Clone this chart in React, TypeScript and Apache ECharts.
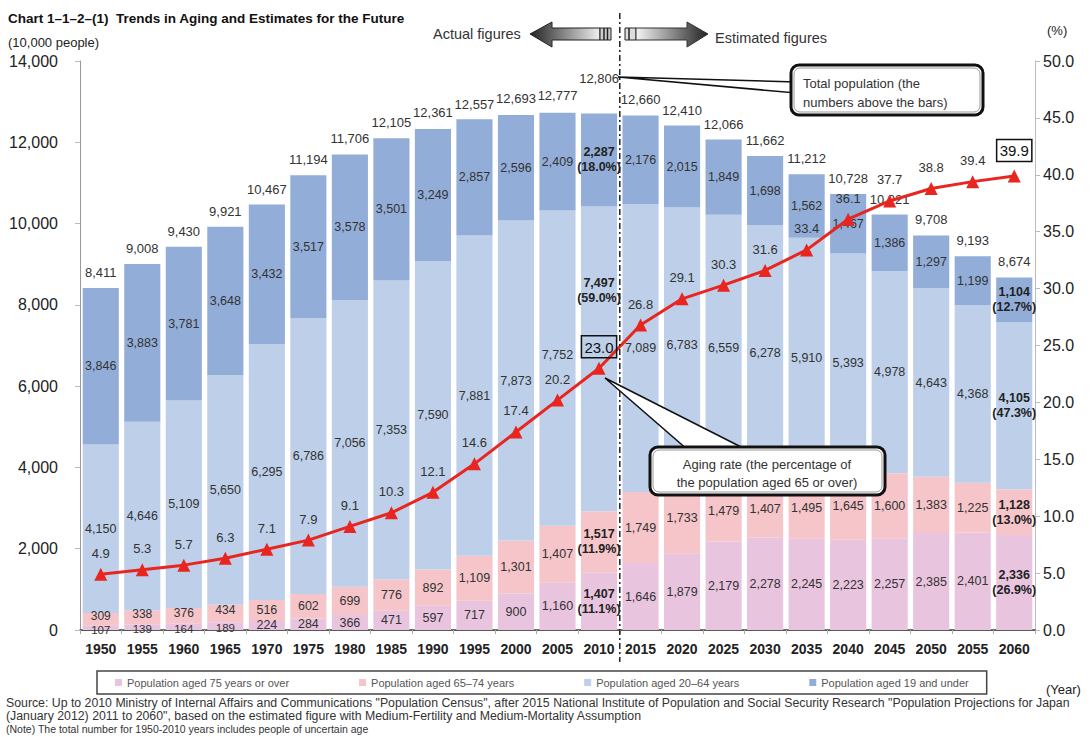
import React, { useEffect, useRef } from "react";
import * as echarts from "echarts";

const years = ["1950","1955","1960","1965","1970","1975","1980","1985","1990","1995","2000","2005","2010","2015","2020","2025","2030","2035","2040","2045","2050","2055","2060"];
const aged19Under = [3846,3883,3781,3648,3432,3517,3578,3501,3249,2857,2596,2409,2287,2176,2015,1849,1698,1562,1467,1386,1297,1199,1104];
const aged20to64 = [4150,4646,5109,5650,6295,6786,7056,7353,7590,7881,7873,7752,7497,7089,6783,6559,6278,5910,5393,4978,4643,4368,4105];
const aged65to74 = [309,338,376,434,516,602,699,776,892,1109,1301,1407,1517,1749,1733,1479,1407,1495,1645,1600,1383,1225,1128];
const aged75Over = [107,139,164,189,224,284,366,471,597,717,900,1160,1407,1646,1879,2179,2278,2245,2223,2257,2385,2401,2336];
const totals = [8411,9008,9430,9921,10467,11194,11706,12105,12361,12557,12693,12777,12806,12660,12410,12066,11662,11212,10728,10221,9708,9193,8674];
const agingRate = [4.9,5.3,5.7,6.3,7.1,7.9,9.1,10.3,12.1,14.6,17.4,20.2,23.0,26.8,29.1,30.3,31.6,33.4,36.1,37.7,38.8,39.4,39.9];
// shares for highlighted years: [75+, 65-74, 20-64, 19-]
const share2010 = [11.1, 11.9, 59.0, 18.0];
const share2060 = [26.9, 13.0, 47.3, 12.7];
const leftTicks = { min: 0, max: 14000, interval: 2000 };
const rightTicks = { min: 0, max: 50, interval: 5 };

const seriesNames = [
  "Population aged 75 years or over",
  "Population aged 65\u201374 years",
  "Population aged 20\u201364 years",
  "Population aged 19 and under",
];
const colors = ["#E9C4DF", "#F5C5CA", "#BDCFE9", "#92AED8"];

const fmt = (v: number) => v.toLocaleString("en-US");
const FONT = "Liberation Sans";

export default function App() {
  const ref = useRef<HTMLDivElement>(null);
  useEffect(() => {
    if (!ref.current) return;
    const chart = echarts.init(ref.current, null, { renderer: "svg" });
    const groups = [aged75Over, aged65to74, aged20to64, aged19Under];
    const highlightIdx = [12, 22];
    const barSeries = groups.map((arr, gi) => ({
      name: seriesNames[gi],
      type: "bar",
      stack: "pop",
      barGap: "-100%",
      barCategoryGap: "13%",
      itemStyle: { color: colors[gi] },
      label: {
        show: true,
        position: "inside",
        fontSize: 12.5,
        color: "#333",
        fontFamily: FONT,
        formatter: (p: any) => fmt(p.value),
      },
      data: arr.map((v, i) => {
        if (gi === 2 && i === 11) return { value: v, label: { offset: [0, -13] } };
        // tiny bottom segments in early years: nudge apart slightly
        if (gi === 0 && aged75Over[i] < 200) return { value: v, label: { fontSize: 11.5, offset: [0, 2] } };
        if (gi === 1 && aged75Over[i] < 200) return { value: v, label: { fontSize: 12, offset: [0, -3] } };
        if (!highlightIdx.includes(i)) return v;
        const sh = i === 12 ? share2010[gi] : share2060[gi];
        return {
          value: v,
          label: {
            fontWeight: "bold",
            lineHeight: 15,
            color: "#222",
            formatter: `${fmt(v)}\n(${sh.toFixed(1)}%)`,
            offset: i === 12 && gi === 2 ? [0, -68] : [0, 0],
          },
        };
      }),
    }));
    const totalSeries = {
      name: "Total",
      type: "bar",
      barGap: "-100%",
      barCategoryGap: "13%",
      itemStyle: { color: "rgba(0,0,0,0)" },
      z: 1,
      label: {
        show: true,
        position: "top",
        distance: 9,
        fontSize: 13,
        color: "#333",
        fontFamily: FONT,
        formatter: (p: any) => fmt(p.value),
      },
      data: totals.map((v, i) => (i === 12 ? { value: v, label: { offset: [0, -16] } } : v)),
    };
    const lineSeries = {
      name: "Aging rate",
      type: "line",
      yAxisIndex: 1,
      z: 5,
      symbol: "triangle",
      symbolSize: 13,
      lineStyle: { color: "#E8251F", width: 3 },
      itemStyle: { color: "#E8251F" },
      label: {
        show: true,
        position: "top",
        distance: 8,
        fontSize: 13,
        color: "#333",
        fontFamily: FONT,
        formatter: (p: any) => Number(p.value).toFixed(1),
      },
      data: agingRate.map((v, i) =>
        highlightIdx.includes(i)
          ? {
              value: v,
              label: {
                borderColor: "#111",
                borderWidth: 1.5,
                padding: [4, 3, 3, 3],
                fontSize: 15,
                color: "#111",
                distance: i === 12 ? 4 : 8,
              },
            }
          : v
      ),
    };

    chart.setOption({
      animation: false,
      backgroundColor: "#fff",
      textStyle: { fontFamily: FONT },
      grid: { left: 80, right: 57, top: 61, bottom: 107, containLabel: false },
      legend: {
        data: seriesNames,
        left: 97,
        top: 671,
        itemWidth: 7,
        itemHeight: 7,
        itemGap: 70,
        padding: [6, 18],
        borderColor: "#444",
        borderWidth: 1.5,
        textStyle: { fontSize: 11, color: "#555", fontFamily: FONT },
        icon: "rect",
      },
      xAxis: [
        {
          type: "category",
          data: years,
          axisLine: { lineStyle: { color: "#999" } },
          axisTick: { show: true, length: 4, lineStyle: { color: "#aaa" } },
          axisLabel: { fontSize: 14, fontWeight: "bold", color: "#222", margin: 12, fontFamily: FONT },
        },
        {
          type: "category",
          data: years,
          position: "top",
          axisLine: { show: true, lineStyle: { color: "#444", width: 1.5 } },
          axisTick: { show: false },
          axisLabel: { show: false },
        },
      ],
      yAxis: [
        {
          type: "value",
          ...leftTicks,
          axisLine: { show: true, lineStyle: { color: "#999" } },
          axisTick: { show: true, length: 5, lineStyle: { color: "#bbb" } },
          splitLine: { show: false },
          axisLabel: { fontSize: 16, color: "#222", margin: 22, formatter: (v: number) => fmt(v), fontFamily: FONT },
        },
        {
          type: "value",
          ...rightTicks,
          position: "right",
          axisLine: { show: true, lineStyle: { color: "#bbb" } },
          axisTick: { show: true, length: 5, lineStyle: { color: "#bbb" } },
          splitLine: { show: false },
          axisLabel: { fontSize: 16, color: "#222", margin: 8, formatter: (v: number) => v.toFixed(1), fontFamily: FONT },
        },
      ],
      series: [...barSeries, totalSeries, lineSeries],
    });

    const xa = chart.convertToPixel({ xAxisIndex: 0 }, "2010") as number;
    const xb = chart.convertToPixel({ xAxisIndex: 0 }, "2015") as number;
    const mid = (xa + xb) / 2;

    const leftGrad = new echarts.graphic.LinearGradient(0, 0, 1, 0, [
      { offset: 0, color: "#222" },
      { offset: 1, color: "#f0f0f0" },
    ]);
    const rightGrad = new echarts.graphic.LinearGradient(0, 0, 1, 0, [
      { offset: 0, color: "#f4f4f4" },
      { offset: 1, color: "#222" },
    ]);
    const txt = (x: number, y: number, text: string, size: number, extra: any = {}) => ({
      type: "text",
      x,
      y,
      z: 100,
      style: { text, fontSize: size, fontFamily: FONT, fill: "#222", textVerticalAlign: "middle", ...extra },
    });

    const graphic: any[] = [
      txt(8, 18, "Chart 1\u20131\u20132\u2013(1)  Trends in Aging and Estimates for the Future", 13.5, { fontWeight: "bold", fill: "#111" }),
      txt(8, 42, "(10,000 people)", 13),
      txt(1047, 30, "(%)", 13),
      txt(1046, 689, "(Year)", 13),
      txt(433, 34, "Actual figures", 14.5, { fill: "#333" }),
      txt(715, 38, "Estimated figures", 14.5, { fill: "#333" }),
      // arrows
      {
        type: "polygon", z: 100,
        shape: { points: [[530, 34], [552, 22], [552, 28], [600, 28], [600, 40], [552, 40], [552, 47]] },
        style: { fill: leftGrad, stroke: "#222", lineWidth: 1 },
      },
      { type: "rect", z: 100, shape: { x: 600, y: 28, width: 11, height: 12 }, style: { fill: "#ccc", stroke: "#222", lineWidth: 1 } },
      { type: "line", z: 101, shape: { x1: 604, y1: 28, x2: 604, y2: 40 }, style: { stroke: "#222", lineWidth: 1.5 } },
      { type: "line", z: 101, shape: { x1: 607.5, y1: 28, x2: 607.5, y2: 40 }, style: { stroke: "#222", lineWidth: 1.5 } },
      { type: "rect", z: 100, shape: { x: 625, y: 28, width: 11, height: 12 }, style: { fill: "#ddd", stroke: "#222", lineWidth: 1 } },
      { type: "line", z: 101, shape: { x1: 629, y1: 28, x2: 629, y2: 40 }, style: { stroke: "#222", lineWidth: 1.5 } },
      {
        type: "polygon", z: 100,
        shape: { points: [[636, 28], [687, 28], [687, 22], [708, 34], [687, 47], [687, 40], [636, 40]] },
        style: { fill: rightGrad, stroke: "#333", lineWidth: 1 },
      },
      // dashed divider
      {
        type: "line", z: 90,
        shape: { x1: mid, y1: 13, x2: mid, y2: 662 },
        style: { stroke: "#222", lineWidth: 1.5, lineDash: [6, 3, 2, 3] },
      },
      // callout: total population
      { type: "polygon", z: 110, shape: { points: [[618, 77], [796, 82], [796, 93]] }, style: { fill: "#fff", stroke: "#111", lineWidth: 1.5 } },
      { type: "rect", z: 111, shape: { x: 791, y: 65, width: 192, height: 50, r: 8 }, style: { fill: "#fff", stroke: "#111", lineWidth: 3 } },
      { type: "rect", z: 112, shape: { x: 794, y: 68, width: 186, height: 44, r: 6 }, style: { fill: "none", stroke: "#999", lineWidth: 1 } },
      { ...txt(803, 83, "Total population (the", 13, { fill: "#333" }), z: 113 },
      { ...txt(803, 102, "numbers above the bars)", 13, { fill: "#333" }), z: 113 },
      // callout: aging rate
      { type: "polygon", z: 110, shape: { points: [[605, 378], [688, 450], [747, 450]] }, style: { fill: "#fff", stroke: "#111", lineWidth: 1.5 } },
      { type: "rect", z: 111, shape: { x: 650, y: 447, width: 235, height: 48, r: 8 }, style: { fill: "#fff", stroke: "#111", lineWidth: 3 } },
      { type: "rect", z: 112, shape: { x: 653, y: 450, width: 229, height: 42, r: 6 }, style: { fill: "none", stroke: "#999", lineWidth: 1 } },
      { ...txt(767, 464, "Aging rate (the percentage of", 13, { fill: "#333", textAlign: "center" }), z: 113 },
      { ...txt(767, 482, "the population aged 65 or over)", 13, { fill: "#333", textAlign: "center" }), z: 113 },
      // source notes
      txt(6, 703, "Source: Up to 2010 Ministry of Internal Affairs and Communications \"Population Census\", after 2015 National Institute of Population and Social Security Research \"Population Projections for Japan", 12.3, { fill: "#333" }),
      txt(6, 716, "(January 2012) 2011 to 2060\", based on the estimated figure with Medium-Fertility and Medium-Mortality Assumption", 12.3, { fill: "#333" }),
      txt(6, 728.5, "(Note) The total number for 1950-2010 years includes people of uncertain age", 10.5, { fill: "#333" }),
    ];
    chart.setOption({ graphic });

    return () => chart.dispose();
  }, []);
  return <div ref={ref} style={{ position: "fixed", left: 0, top: 0, width: 1092, height: 737 }} />;
}
